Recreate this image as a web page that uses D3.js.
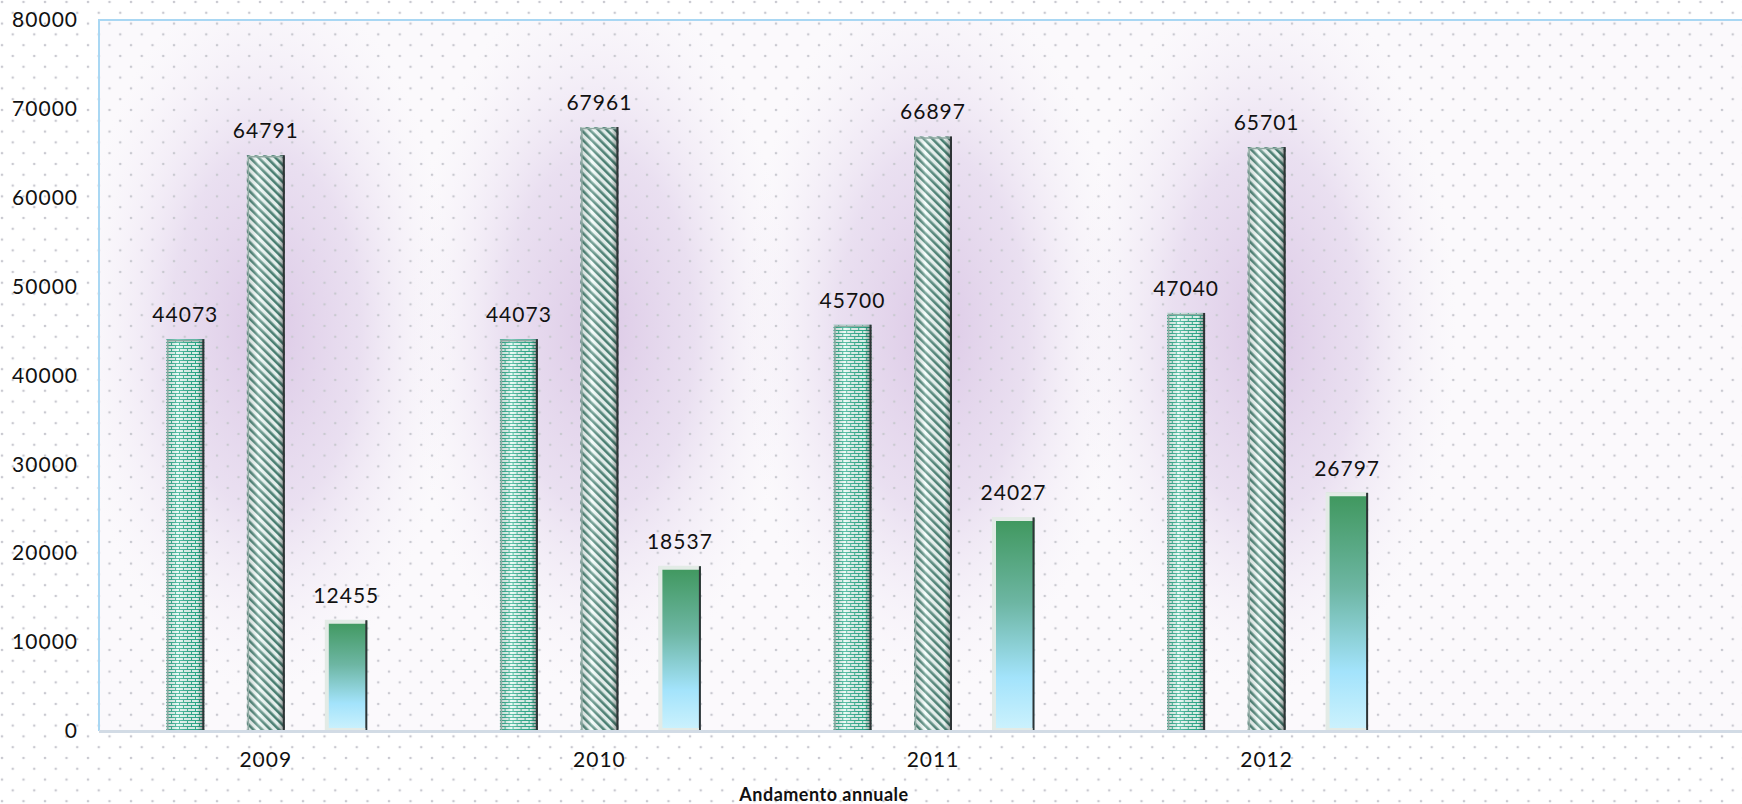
<!DOCTYPE html>
<html>
<head>
<meta charset="utf-8">
<script src="https://cdn.jsdelivr.net/npm/d3@7"></script>
<style>
  html, body { margin: 0; padding: 0; background: #fff; }
  svg { display: block; font-family: Lato, "Open Sans", sans-serif; }
</style>
</head>
<body>
<div id="chart"></div>
<script>
const categories = ['2009', '2010', '2011', '2012', '']
const seriesNames = ['s1', 's2', 's3']
const s1Values = [44073, 44073, 45700, 47040]
const s2Values = [64791, 67961, 66897, 65701]
const s3Values = [12455, 18537, 24027, 26797]
const yTicks = [0, 10000, 20000, 30000, 40000, 50000, 60000, 70000, 80000]
const xTitle = 'Andamento annuale'

const width = 1742, height = 804
const margin = ({ top: 20, right: -25, bottom: 73, left: 99 })

const rows = categories.slice(0, 4).map((c, i) => ({
    year: c,
    s1: s1Values[i],
    s2: s2Values[i],
    s3: s3Values[i]
}))

const svg = d3.select('#chart')
    .append('svg')
    .attr('width', width)
    .attr('height', height)

const defs = svg.append('defs')

// staggered dot grid
const dots = defs.append('pattern')
    .attr('id', 'dots')
    .attr('patternUnits', 'userSpaceOnUse')
    .attr('width', 21.5)
    .attr('height', 21.6)
dots.append('circle').attr('cx', 2).attr('cy', 2).attr('r', 1.3).attr('fill', '#c9c9d0')
dots.append('circle').attr('cx', 12.75).attr('cy', 12.8).attr('r', 1.3).attr('fill', '#c9c9d0')

// brick pattern
const brick = defs.append('pattern')
    .attr('id', 'brick')
    .attr('patternUnits', 'userSpaceOnUse')
    .attr('width', 8)
    .attr('height', 6)
brick.append('rect').attr('width', 8).attr('height', 6).attr('fill', '#e6fbf5')
brick.append('path')
    .attr('d', 'M0,0.5H8M0,3.5H8M0.5,0V3M4.5,3V6')
    .attr('stroke', '#2fb08f')
    .attr('stroke-width', 1)

// diagonal stripes
const stripes = defs.append('pattern')
    .attr('id', 'stripes')
    .attr('patternUnits', 'userSpaceOnUse')
    .attr('width', 6)
    .attr('height', 6)
    .attr('patternTransform', 'rotate(-45)')
stripes.append('rect').attr('width', 6).attr('height', 6).attr('fill', '#f4fffc')
stripes.append('rect').attr('width', 2.6).attr('height', 6).attr('fill', '#4d8678')

// vertical gradient for third series
const grad3 = defs.append('linearGradient')
    .attr('id', 'grad3')
    .attr('x1', 0).attr('y1', 0).attr('x2', 0).attr('y2', 1)
grad3.append('stop').attr('offset', '0%').attr('stop-color', '#3f975d')
grad3.append('stop').attr('offset', '40%').attr('stop-color', '#6db6a3')
grad3.append('stop').attr('offset', '75%').attr('stop-color', '#a3e3fb')
grad3.append('stop').attr('offset', '100%').attr('stop-color', '#cdf2fd')

// cylinder-like shading across bars
const shade = defs.append('linearGradient')
    .attr('id', 'shade')
    .attr('x1', 0).attr('y1', 0).attr('x2', 1).attr('y2', 0)
shade.append('stop').attr('offset', '0%').attr('stop-color', '#000').attr('stop-opacity', 0.12)
shade.append('stop').attr('offset', '30%').attr('stop-color', '#fff').attr('stop-opacity', 0.25)
shade.append('stop').attr('offset', '80%').attr('stop-color', '#000').attr('stop-opacity', 0.05)
shade.append('stop').attr('offset', '100%').attr('stop-color', '#000').attr('stop-opacity', 0.45)

// purple glow
const glow = defs.append('radialGradient').attr('id', 'glow')
glow.append('stop').attr('offset', '0%').attr('stop-color', '#dcc9e6').attr('stop-opacity', 1)
glow.append('stop').attr('offset', '50%').attr('stop-color', '#e4d7ed').attr('stop-opacity', 0.75)
glow.append('stop').attr('offset', '100%').attr('stop-color', '#f4eff8').attr('stop-opacity', 0)

const x0 = d3.scaleBand()
    .domain(categories)
    .range([margin.left, width - margin.right])
    .paddingInner(0)
    .paddingOuter(0)

const x1 = d3.scaleBand()
    .domain(seriesNames)
    .range([0, x0.bandwidth()])
    .paddingInner(0.528)
    .paddingOuter(0.836)

const y = d3.scaleLinear()
    .domain([0, 80000])
    .range([height - margin.bottom, margin.top])

// extra width for the bevelled third series
const grow = k => k === 's3' ? 2 : 0

// plot background with glows
svg.append('rect')
    .attr('x', margin.left)
    .attr('y', margin.top)
    .attr('width', width - margin.left)
    .attr('height', y(0) - margin.top)
    .attr('fill', '#fbf9fc')

svg.append('defs').append('clipPath')
    .attr('id', 'plot-clip')
    .append('rect')
    .attr('x', margin.left)
    .attr('y', margin.top)
    .attr('width', width - margin.left)
    .attr('height', y(0) - margin.top)

svg.append('g')
    .attr('clip-path', 'url(#plot-clip)')
    .selectAll('ellipse')
    .data(rows)
    .join('ellipse')
    .attr('cx', d => x0(d.year) + x1('s2') + x1.bandwidth() / 2)
    .attr('cy', y(45000))
    .attr('rx', 190)
    .attr('ry', 360)
    .attr('fill', 'url(#glow)')

svg.append('rect')
    .attr('width', width)
    .attr('height', height)
    .attr('fill', 'url(#dots)')

// plot border (left and top)
svg.append('path')
    .attr('d', `M${width},${margin.top}H${margin.left}V${y(0)}`)
    .attr('fill', 'none')
    .attr('stroke', '#a9d7f3')
    .attr('stroke-width', 2)

// bars
const fills = { s1: 'url(#brick)', s2: 'url(#stripes)', s3: 'url(#grad3)' }

const groups = svg.append('g')
    .selectAll('g')
    .data(rows)
    .join('g')
    .attr('transform', d => `translate(${x0(d.year)},0)`)

const bars = groups.selectAll('g')
    .data(d => seriesNames.map(k => ({ key: k, value: d[k] })))
    .join('g')

bars.append('rect')
    .attr('x', d => x1(d.key) - grow(d.key))
    .attr('y', d => y(d.value))
    .attr('width', d => x1.bandwidth() + 2 * grow(d.key))
    .attr('height', d => y(0) - y(d.value))
    .attr('fill', d => fills[d.key])

bars.filter(d => d.key !== 's3')
    .append('rect')
    .attr('x', d => x1(d.key))
    .attr('y', d => y(d.value))
    .attr('width', x1.bandwidth())
    .attr('height', d => y(0) - y(d.value))
    .attr('fill', 'url(#shade)')

// bevel edges
bars.append('path')
    .attr('d', d => {
        const l = x1(d.key) - grow(d.key), r = x1(d.key) + x1.bandwidth() + grow(d.key)
        const t = y(d.value), b = y(0)
        return `M${l + 1.5},${b}V${t + 1.5}H${r - 1}`
    })
    .attr('fill', 'none')
    .attr('stroke', d => d.key === 's3' ? '#e3ebe6' : '#8fa8a2')
    .attr('stroke-width', d => d.key === 's3' ? 4 : 1.5)
bars.append('path')
    .attr('d', d => {
        const r = x1(d.key) + x1.bandwidth() + grow(d.key), t = y(d.value), b = y(0)
        return `M${r - 1},${t}V${b}`
    })
    .attr('stroke', '#2e3436')
    .attr('stroke-width', 2)
bars.filter(d => d.key === 's3')
    .append('path')
    .attr('d', d => {
        const l = x1(d.key) - grow(d.key), r = x1(d.key) + x1.bandwidth() + grow(d.key), b = y(0)
        return `M${l},${b - 1.5}H${r - 2}`
    })
    .attr('stroke', '#e3ebe6')
    .attr('stroke-width', 3)

// value labels
bars.append('text')
    .attr('x', d => x1(d.key) + x1.bandwidth() / 2)
    .attr('y', d => y(d.value) - 17)
    .attr('text-anchor', 'middle')
    .attr('font-size', 21)
    .attr('letter-spacing', 1)
    .attr('fill', '#111')
    .text(d => d.value)

// zero line
svg.append('line')
    .attr('x1', margin.left)
    .attr('x2', width)
    .attr('y1', y(0) + 0.5)
    .attr('y2', y(0) + 0.5)
    .attr('stroke', '#d2dbe5')
    .attr('stroke-width', 3)

// y axis labels
const yAxis = g => g
    .attr('transform', `translate(${margin.left - 10},0)`)
    .call(d3.axisLeft(y).tickValues(yTicks).tickSize(0).tickPadding(11).tickFormat(d3.format('d')))
    .call(g => g.select('.domain').remove())
    .call(g => g.selectAll('text')
        .attr('font-size', 21).attr('letter-spacing', 1)
        .attr('fill', '#111').attr('font-family', 'Lato, sans-serif'))

svg.append('g').call(yAxis)

// x axis labels
const xAxis = g => g
    .attr('transform', `translate(0,${y(0)})`)
    .call(d3.axisBottom(x0).tickSize(0).tickPadding(21))
    .call(g => g.select('.domain').remove())
    .call(g => g.selectAll('text')
        .attr('font-size', 21).attr('letter-spacing', 1)
        .attr('fill', '#111').attr('font-family', 'Lato, sans-serif'))

svg.append('g').call(xAxis)

svg.append('text')
    .attr('x', 824)
    .attr('y', 801)
    .attr('text-anchor', 'middle')
    .attr('font-size', 18)
    .attr('font-weight', 'bold')
    .attr('letter-spacing', 0.5)
    .attr('fill', '#111')
    .text(xTitle)
</script>
</body>
</html>
